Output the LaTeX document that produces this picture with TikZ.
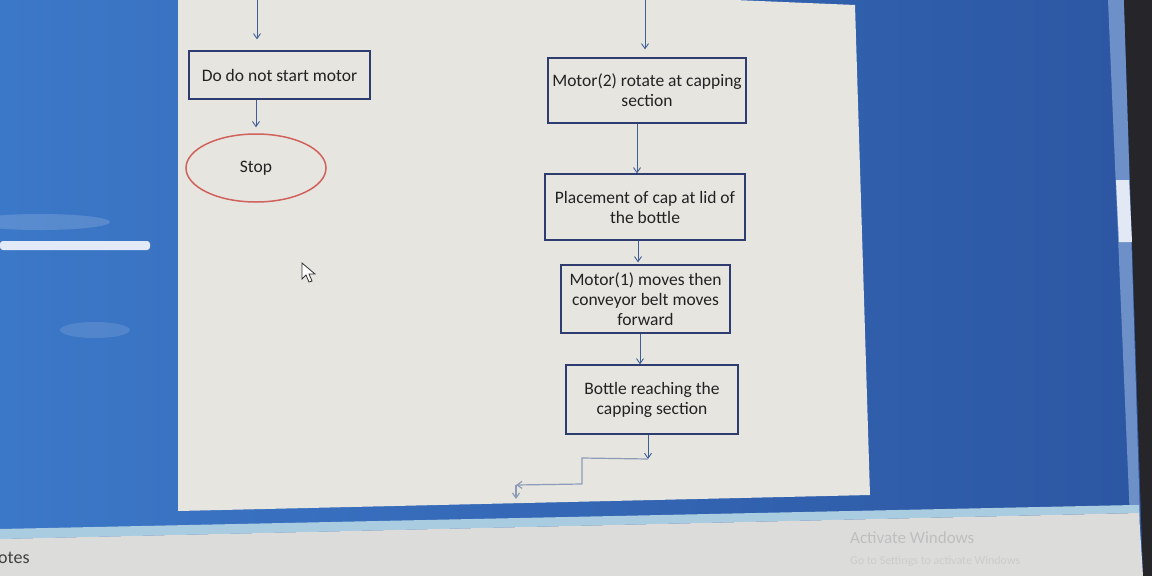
\documentclass[tikz,border=0pt]{standalone}
\usepackage{fontspec}
\setmainfont{Carlito}
\usetikzlibrary{arrows.meta,shapes.geometric,calc}
\definecolor{bgblue}{HTML}{3C78C8}
\definecolor{bgblueR}{HTML}{2C56A2}
\definecolor{pagec}{HTML}{E7E5E0}
\definecolor{boxc}{HTML}{2E3C70}
\definecolor{arrc}{HTML}{3E5E98}
\definecolor{linkc}{HTML}{8C9CB8}
\definecolor{stopred}{HTML}{D0625C}
\definecolor{txtc}{HTML}{222222}
\definecolor{barc}{HTML}{6E90C8}
\definecolor{stripc}{HTML}{A9CCE0}
\definecolor{greyc}{HTML}{DCDCDA}
\definecolor{edgec}{HTML}{26262A}
\tikzset{
  box/.style={draw=boxc, line width=1.3pt, align=center, text=txtc, font=\fontsize{17.5}{20}\selectfont, inner sep=1pt},
  arr/.style={draw=arrc, line width=0.9pt, -{Straight Barb[length=5pt,width=7pt]}},
  link/.style={draw=linkc, line width=1.2pt},
  linkarr/.style={link, -{Straight Barb[length=5pt,width=7pt]}}
}
\begin{document}
\begin{tikzpicture}[x=1pt,y=-1pt]
\useasboundingbox (0,0) rectangle (1152,576);
% screen background
\shade[left color=bgblue, right color=bgblueR] (0,0) rectangle (1152,576);
\fill[white, opacity=0.15] (40,222) ellipse (70 and 8);
\fill[white, opacity=0.12] (95,330) ellipse (35 and 8);
\fill[white, opacity=0.85, rounded corners=3] (0,241) rectangle (150,250);
% scrollbar and dark edge
\fill[barc] (1108,0) -- (1124,0) -- (1140,520) -- (1130,520) -- cycle;
\fill[edgec] (1124,0) -- (1152,0) -- (1152,576) -- (1143,576) -- cycle;
\fill[white!80!barc] (1116,180) -- (1129,180) -- (1132,242) -- (1119,242) -- cycle;
% bottom strip and grey panel
\fill[stripc] (0,529) -- (1134,505) -- (1139,505) -- (1139,513) -- (0,539) -- cycle;
\fill[greyc] (0,539) -- (1139,513) -- (1143,576) -- (0,576) -- cycle;
% page
\fill[pagec] (178,0) -- (735,0) -- (855,5) -- (870,495) -- (178,511) -- cycle;
% cursor
\draw[black!80, fill=white, line width=0.8pt] (302,263) -- (302,279) -- (306,275) -- (309,282) -- (312,281) -- (309,274) -- (315,274) -- cycle;
% nodes
\node[box, minimum width=181, minimum height=48] (n1) at (279.5,75) {Do do not start motor};
\node[ellipse, draw=stopred, line width=1.5pt, minimum width=140, minimum height=68, text=txtc, font=\fontsize{17.5}{20}\selectfont] (stop) at (256,168) {Stop};
\node[box, minimum width=198, minimum height=65] (n2) at (647,90.5) {Motor(2) rotate at capping\\section};
\node[box, minimum width=200, minimum height=66] (n3) at (645,207) {Placement of cap at lid of\\the bottle};
\node[box, minimum width=169, minimum height=68] (n4) at (645.5,299) {Motor(1) moves then\\conveyor belt moves\\forward};
\node[box, minimum width=172, minimum height=69] (n5) at (652,399.5) {Bottle reaching the\\capping section};
% connectors
\coordinate (t1) at (257,-2);
\coordinate (t2) at (645,-2);
\draw[arr, shorten >=11pt] (t1) -- (t1 |- n1.north);
\draw[arr, shorten >=6pt] ([xshift=-23.5]n1.south) -- ([xshift=-23.5]n1.south |- stop.north);
\draw[arr, shorten >=8pt] (t2) -- (t2 |- n2.north);
\draw[arr] ([xshift=-10]n2.south) -- ([xshift=-10]n2.south |- n3.north);
\draw[arr, shorten >=2pt] ([xshift=-7]n3.south) -- ([xshift=-7]n3.south |- n4.north);
\draw[arr] ([xshift=-5.5]n4.south) -- ([xshift=-5.5]n4.south |- n5.north);
\coordinate (c1) at (648,459);
\coordinate (c2) at (582,458);
\coordinate (c3) at (582,484);
\coordinate (c4) at (516,485);
\coordinate (c5) at (516,499);
\draw[arr] ([xshift=-4]n5.south) -- ([xshift=-4]n5.south |- c1);
\draw[link] (c1) -- (c2) -- (c3);
\draw[linkarr] (c3) -- (c4);
\draw[linkarr] (c4) -- (c5);
% screen texts
\node[anchor=west, text=black!75, font=\fontsize{18}{20}\selectfont, inner sep=0] (notes) at (-2,558) {otes};
\node[anchor=west, text=black!25, font=\fontsize{17}{20}\selectfont, inner sep=0] (act) at (850,538) {Activate Windows};
\node[anchor=west, text=black!20, font=\fontsize{12}{14}\selectfont, inner sep=0] (act2) at (850,561) {Go to Settings to activate Windows};
\end{tikzpicture}
\end{document}
